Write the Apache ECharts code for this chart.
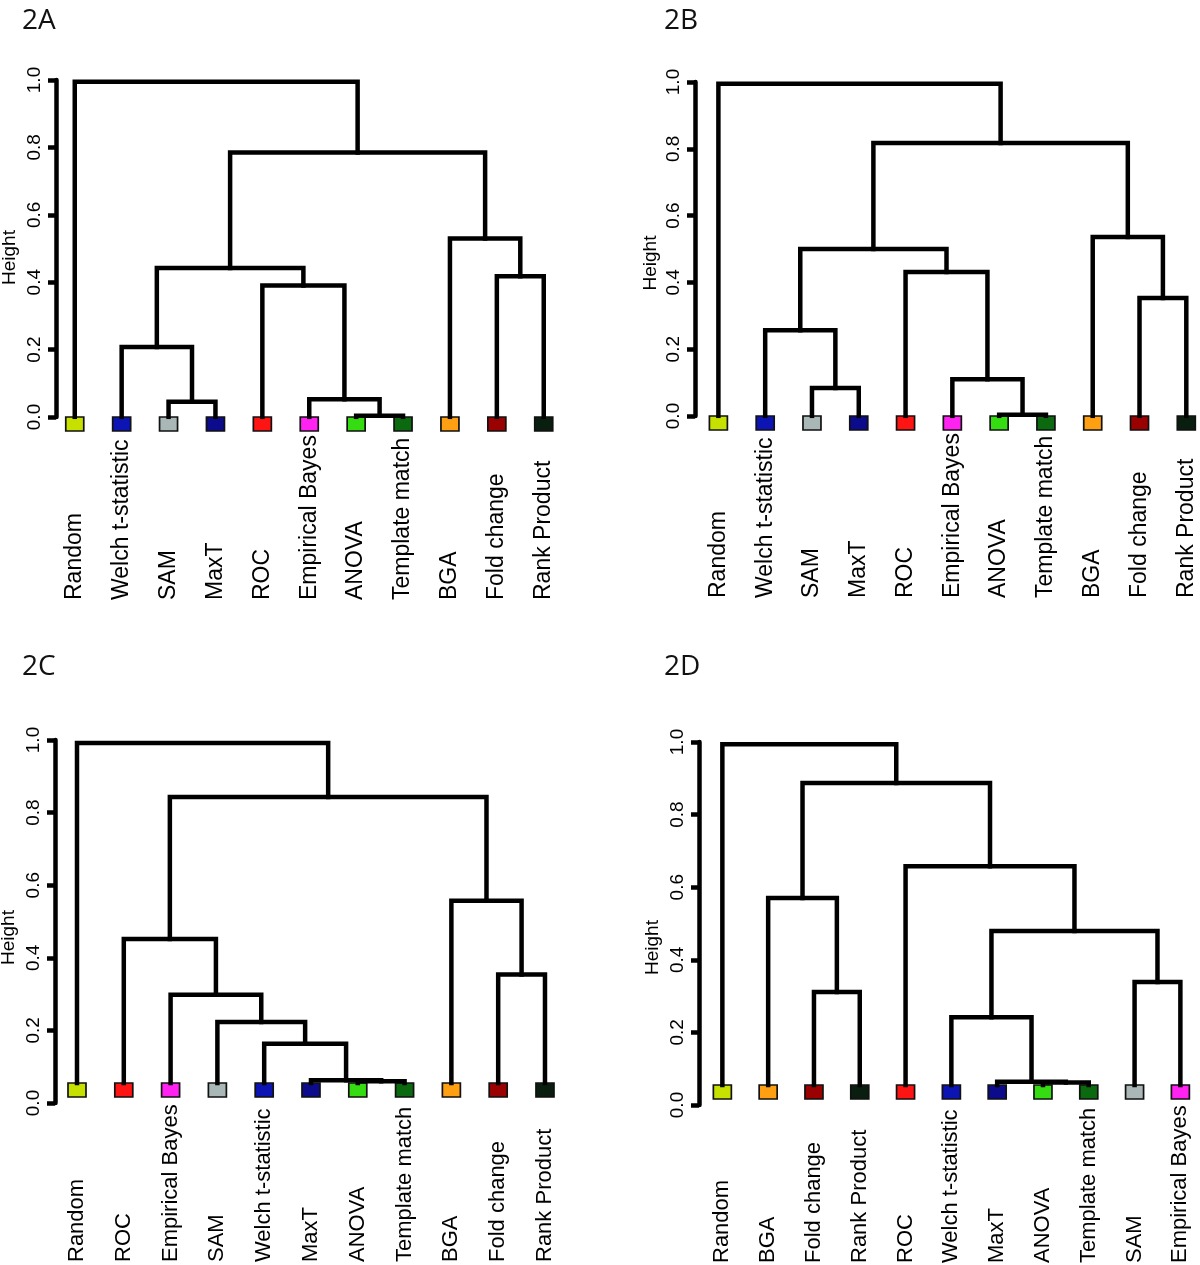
<!DOCTYPE html>
<html><head><meta charset="utf-8">
<script src="https://cdn.jsdelivr.net/npm/echarts@6/dist/echarts.min.js"></script>
<style>html,body{margin:0;padding:0;background:#fff}#c{width:1200px;height:1265px}</style>
</head><body><div id="c"></div>
<script>
// ---------- data ----------
const panelTitles = ["2A", "2B", "2C", "2D"];
const yTickValues = [0.0, 0.2, 0.4, 0.6, 0.8, 1.0];

const leavesA = ["Random","Welch t-statistic","SAM","MaxT","ROC","Empirical Bayes","ANOVA","Template match","BGA","Fold change","Rank Product"];
const mergesA = [[-7,-8],[-3,-4],[-6,1],[-2,2],[-5,3],[-10,-11],[4,5],[-9,6],[7,8],[-1,9]];
const heightsA = [0.004,0.045,0.053,0.208,0.390,0.418,0.442,0.530,0.785,0.995];

const leavesB = ["Random","Welch t-statistic","SAM","MaxT","ROC","Empirical Bayes","ANOVA","Template match","BGA","Fold change","Rank Product"];
const mergesB = [[-7,-8],[-3,-4],[-6,1],[-2,2],[-10,-11],[-5,3],[4,6],[-9,5],[7,8],[-1,9]];
const heightsB = [0.004,0.084,0.110,0.257,0.353,0.431,0.500,0.536,0.817,0.995];

const leavesC = ["Random","ROC","Empirical Bayes","SAM","Welch t-statistic","MaxT","ANOVA","Template match","BGA","Fold change","Rank Product"];
const mergesC = [[-7,-8],[-6,1],[-5,2],[-4,3],[-3,4],[-10,-11],[-2,5],[-9,6],[7,8],[-1,9]];
const heightsC = [0.060,0.063,0.163,0.223,0.298,0.354,0.452,0.557,0.843,0.992];

const leavesD = ["Random","BGA","Fold change","Rank Product","ROC","Welch t-statistic","MaxT","ANOVA","Template match","SAM","Empirical Bayes"];
const mergesD = [[-8,-9],[-7,1],[-6,2],[-3,-4],[-10,-11],[3,5],[-2,4],[-5,6],[7,8],[-1,9]];
const heightsD = [0.062,0.064,0.242,0.311,0.339,0.479,0.570,0.658,0.887,0.994];

// leaf hang level (height where leaf stems end)
const leafLevels = [0, 0, 0.055, 0.055];

// ---------- styles / layout ----------
const leafColors = {
  "Random":"#c6e000","Welch t-statistic":"#0c14b4","SAM":"#a9b7b6","MaxT":"#0b0b8c",
  "ROC":"#ff1414","Empirical Bayes":"#ff22f0","ANOVA":"#35dc12","Template match":"#0b6a10",
  "BGA":"#ff9f12","Fold change":"#9a0202","Rank Product":"#0a1e10"
};
const layout = [
  {left:56,  top:80,  width:506.5, height:337, xMin:0.60, xMax:11.40, labelMargin:183, labelSize:23, nameGap:37, namePad:18, tx:17,  ty:2},
  {left:695, top:82,  width:503,   height:334, xMin:0.50, xMax:11.25, labelMargin:182, labelSize:23, nameGap:35, namePad:28, tx:659, ty:2},
  {left:55,  top:740, width:508.7, height:363, xMin:0.53, xMax:11.40, labelMargin:159, labelSize:22, nameGap:37, namePad:32, tx:17,  ty:648},
  {left:699, top:742, width:499.7, height:363, xMin:0.49, xMax:11.40, labelMargin:158, labelSize:22, nameGap:37, namePad:48, tx:659, ty:648}
];
const panels = [
  {leaves:leavesA, merges:mergesA, heights:heightsA},
  {leaves:leavesB, merges:mergesB, heights:heightsB},
  {leaves:leavesC, merges:mergesC, heights:heightsC},
  {leaves:leavesD, merges:mergesD, heights:heightsD}
];

function treeSegments(merges, heights, leafLevel) {
  const nx = [], ny = [];
  const pos = r => r < 0 ? [-r, leafLevel] : [nx[r-1], ny[r-1]];
  const segs = [];
  merges.forEach((m, i) => {
    const a = pos(m[0]), b = pos(m[1]), h = heights[i];
    nx.push((a[0] + b[0]) / 2); ny.push(h);
    segs.push({coords: [[a[0], a[1]], [a[0], h], [b[0], h], [b[0], b[1]]]});
  });
  return segs;
}

const option = {
  backgroundColor:'#fff',
  animation:false,
  title:[], grid:[], xAxis:[], yAxis:[], series:[]
};

panels.forEach((p, k) => {
  const L = layout[k];
  option.title.push({text:panelTitles[k], left:L.tx, top:L.ty,
    textStyle:{fontFamily:'Open Sans', fontSize:28, fontWeight:'normal', color:'#111'}});
  option.grid.push({left:L.left, top:L.top, width:L.width, height:L.height,
    containLabel:false, outerBoundsMode:'none'});
  option.xAxis.push({
    type:'value', gridIndex:k, min:L.xMin, max:L.xMax,
    axisLine:{show:false}, axisTick:{show:false}, splitLine:{show:false},
    axisLabel:{
      customValues: p.leaves.map((_, i) => i + 1),
      formatter: v => p.leaves[Math.round(v) - 1] || '',
      rotate:90, margin:L.labelMargin, align:'left', verticalAlign:'middle',
      fontSize:L.labelSize, color:'#000', fontFamily:'Liberation Sans'
    }
  });
  option.yAxis.push({
    type:'value', gridIndex:k, min:0, max:1, interval:0.2,
    name:'Height', nameLocation:'middle', nameRotate:90, nameGap:L.nameGap,
    nameTextStyle:{fontFamily:'Liberation Sans', fontSize:19, color:'#000', padding:[0, L.namePad, 0, 0]},
    axisLine:{show:true, lineStyle:{color:'#000', width:4.5}},
    axisTick:{show:true, length:8, customValues:yTickValues, lineStyle:{color:'#000', width:4.5}},
    splitLine:{show:false},
    axisLabel:{customValues:yTickValues, rotate:90, margin:12, fontSize:19, color:'#000',
      fontFamily:'Liberation Sans', formatter: v => v.toFixed(1)}
  });
  option.series.push({
    type:'lines', coordinateSystem:'cartesian2d', xAxisIndex:k, yAxisIndex:k,
    polyline:true, silent:true, z:3,
    lineStyle:{color:'#000', width:4.5, opacity:1, curveness:0, cap:'square', join:'miter'},
    data: treeSegments(p.merges, p.heights, leafLevels[k])
  });
  option.series.push({
    type:'scatter', xAxisIndex:k, yAxisIndex:k, clip:false, z:2,
    symbol:'rect', symbolSize:[18,14], symbolOffset:[0,7], silent:true,
    data: p.leaves.map((name, i) => ({value:[i + 1, leafLevels[k]],
      itemStyle:{color:leafColors[name], opacity:1, borderColor:'#111', borderWidth:1.5}}))
  });
});

const chart = echarts.init(document.getElementById('c'), null, {renderer:'canvas'});
chart.setOption(option);
</script>
</body></html>
